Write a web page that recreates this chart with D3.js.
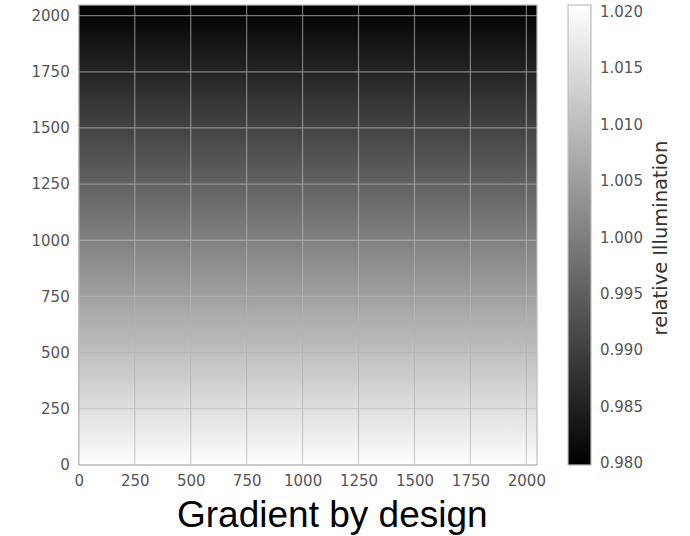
<!DOCTYPE html>
<html>
<head>
<meta charset="utf-8">
<script src="https://cdn.jsdelivr.net/npm/d3@7"></script>
<style>
  html, body { margin: 0; padding: 0; background: #fff; }
  svg { display: block; }
</style>
</head>
<body>
<svg id="chart" width="690" height="536"></svg>
<script>
// Row profile of the illumination map: pixel row (y) and relative illumination.
const rowY = [0, 256, 512, 768, 1024, 1280, 1536, 1792, 2047];
const illumination = [1.0204, 1.0153, 1.0102, 1.0051, 1.0000, 0.9949, 0.9898, 0.9847, 0.9798];

// Image size in pixels and axis ticks.
const imageSize = [2048, 2048];
const axisTicks = [0, 250, 500, 750, 1000, 1250, 1500, 1750, 2000];
const colorbarTicks = [0.980, 0.985, 0.990, 0.995, 1.000, 1.005, 1.010, 1.015, 1.020];
const colorbarRange = [0.9798, 1.0206];

const titleText = "Gradient by design";
const colorbarLabel = "relative Illumination";

const svg = d3.select("#chart");
const plot = { left: 78.7, right: 537, top: 5, bottom: 465 };
const cbar = { left: 568, right: 591, top: 5, bottom: 465 };

const x = d3.scaleLinear().domain([-0.5, imageSize[0] - 0.5]).range([plot.left, plot.right]);
const y = d3.scaleLinear().domain([-0.5, imageSize[1] - 0.5]).range([plot.bottom, plot.top]);
const gray = d3.scaleLinear().domain(colorbarRange).range(["#000000", "#ffffff"]).clamp(true);
const cy = d3.scaleLinear().domain(colorbarRange).range([cbar.bottom, cbar.top]);

const defs = svg.append("defs");

// Vertical gradient for the image, stops placed on the y scale.
const imgGrad = defs.append("linearGradient")
  .attr("id", "imgGrad")
  .attr("gradientUnits", "userSpaceOnUse")
  .attr("x1", 0).attr("x2", 0)
  .attr("y1", y(rowY[0])).attr("y2", y(rowY[rowY.length - 1]));
imgGrad.selectAll("stop")
  .data(rowY.map((r, i) => ({ r, v: illumination[i] })))
  .join("stop")
  .attr("offset", d => (d.r - rowY[0]) / (rowY[rowY.length - 1] - rowY[0]))
  .attr("stop-color", d => gray(d.v));

svg.append("rect")
  .attr("x", plot.left).attr("y", plot.top)
  .attr("width", plot.right - plot.left).attr("height", plot.bottom - plot.top)
  .attr("fill", "url(#imgGrad)");

// Grid lines on top of the image
const grid = svg.append("g")
  .attr("stroke", "#b3b3b3").attr("stroke-opacity", 0.65).attr("stroke-width", 1.2);
grid.selectAll("line.gx").data(axisTicks).join("line").attr("class", "gx")
  .attr("x1", d => x(d)).attr("x2", d => x(d))
  .attr("y1", plot.top).attr("y2", plot.bottom);
grid.selectAll("line.gy").data(axisTicks).join("line").attr("class", "gy")
  .attr("y1", d => y(d)).attr("y2", d => y(d))
  .attr("x1", plot.left).attr("x2", plot.right);

// Axes frame
svg.append("rect")
  .attr("x", plot.left).attr("y", plot.top)
  .attr("width", plot.right - plot.left).attr("height", plot.bottom - plot.top)
  .attr("fill", "none").attr("stroke", "#bcbcbc").attr("stroke-width", 1.2);

// Tick labels (no tick marks)
const tickFont = "'DejaVu Sans', sans-serif";
const xAxis = d3.axisBottom(x).tickValues(axisTicks).tickSize(0).tickPadding(10).tickFormat(d3.format("d"));
const yAxis = d3.axisLeft(y).tickValues(axisTicks).tickSize(0).tickPadding(9).tickFormat(d3.format("d"));

const gx = svg.append("g").attr("transform", `translate(0,${plot.bottom})`).call(xAxis);
const gy = svg.append("g").attr("transform", `translate(${plot.left},0)`).call(yAxis);
[gx, gy].forEach(g => {
  g.select(".domain").remove();
  g.selectAll("text").attr("font-family", tickFont).attr("font-size", 15).attr("fill", "#555");
});

// Colorbar
const cbGrad = defs.append("linearGradient")
  .attr("id", "cbGrad")
  .attr("gradientUnits", "userSpaceOnUse")
  .attr("x1", 0).attr("x2", 0)
  .attr("y1", cy(colorbarRange[0])).attr("y2", cy(colorbarRange[1]));
cbGrad.selectAll("stop").data(colorbarRange).join("stop")
  .attr("offset", (d, i) => i)
  .attr("stop-color", d => gray(d));

svg.append("rect")
  .attr("x", cbar.left).attr("y", cbar.top)
  .attr("width", cbar.right - cbar.left).attr("height", cbar.bottom - cbar.top)
  .attr("fill", "url(#cbGrad)")
  .attr("stroke", "#bcbcbc").attr("stroke-width", 1.2);

const cAxis = d3.axisRight(cy).tickValues(colorbarTicks).tickSize(0).tickPadding(9)
  .tickFormat(d3.format(".3f"));
const gc = svg.append("g").attr("transform", `translate(${cbar.right},0)`).call(cAxis);
gc.select(".domain").remove();
gc.selectAll("text").attr("font-family", tickFont).attr("font-size", 15).attr("fill", "#555");

svg.append("text")
  .attr("transform", `translate(667,${(cbar.top + cbar.bottom) / 2 + 3}) rotate(-90)`)
  .attr("text-anchor", "middle")
  .attr("font-family", tickFont).attr("font-size", 19.5).attr("fill", "#333")
  .text(colorbarLabel);

// Title beneath the axes
svg.append("text")
  .attr("x", 177).attr("y", 527)
  .attr("font-family", "'Liberation Sans', Arial, sans-serif")
  .attr("font-size", 37).attr("fill", "#000")
  .text(titleText);
</script>
</body>
</html>
